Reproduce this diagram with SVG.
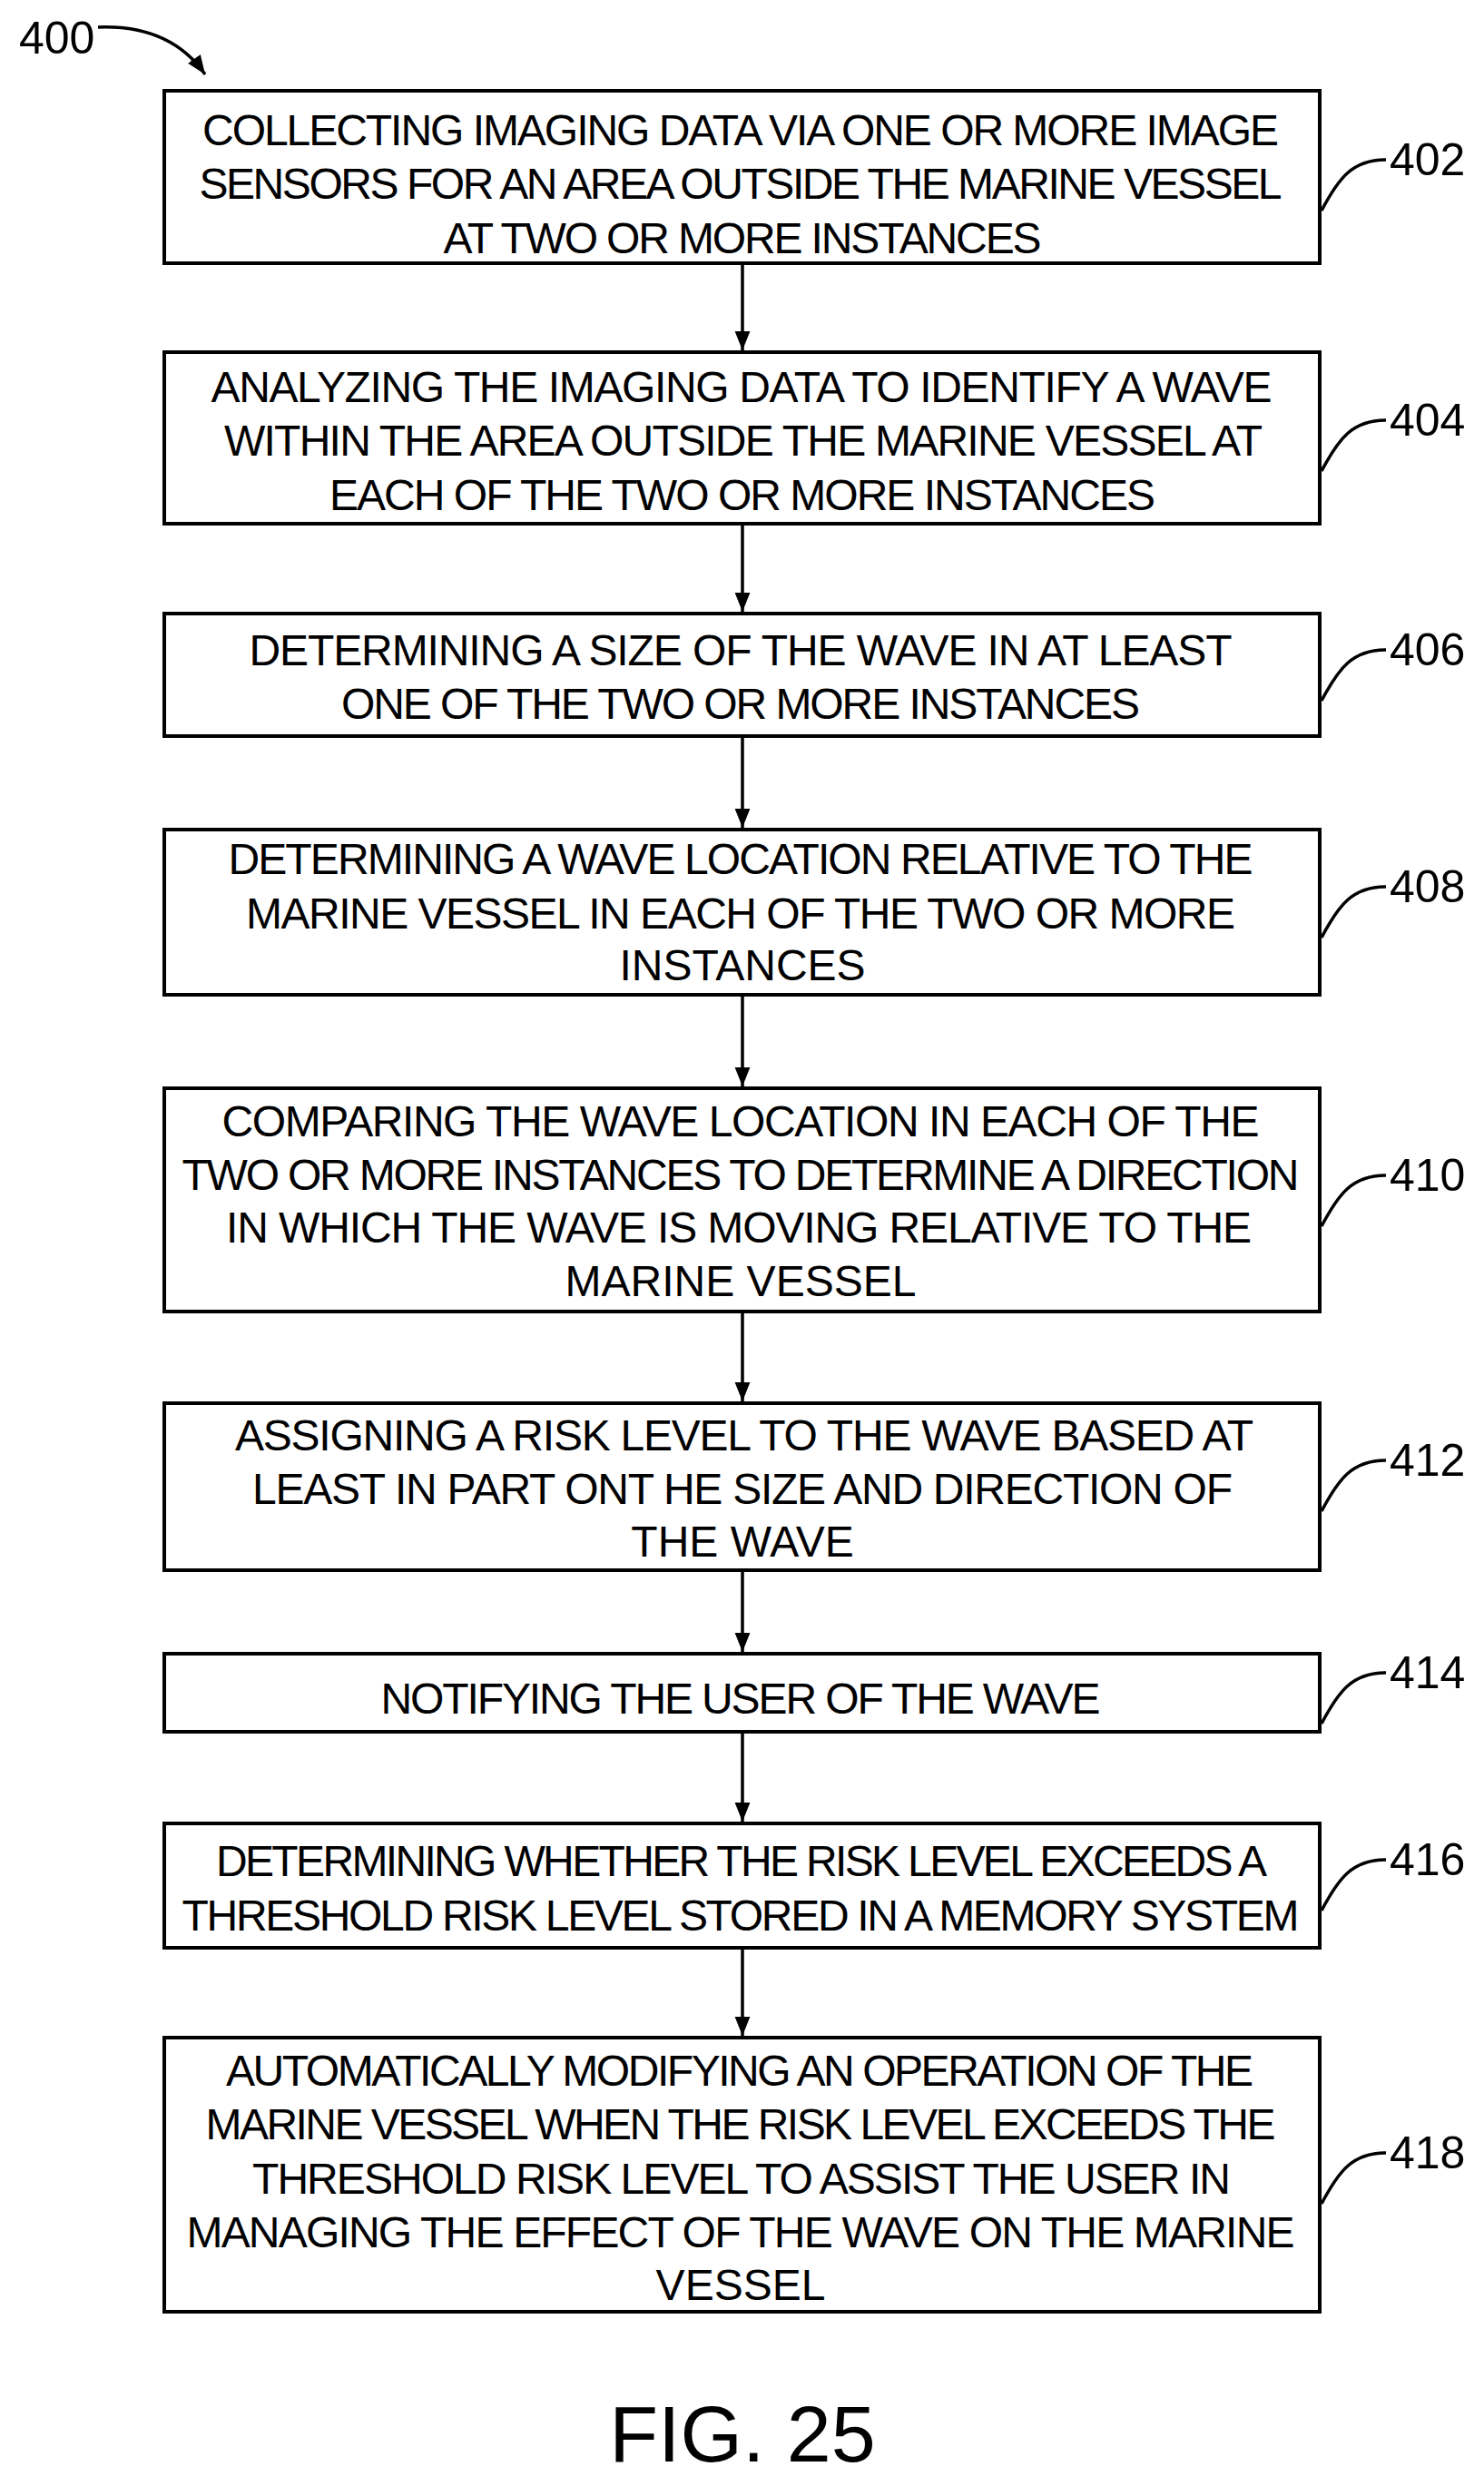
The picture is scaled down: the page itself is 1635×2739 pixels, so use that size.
<svg xmlns="http://www.w3.org/2000/svg" width="1635" height="2739" viewBox="0 0 1635 2739">
<style>
.b{fill:#fff;stroke:#000;stroke-width:4}
.t{font-family:"Liberation Sans",Arial,sans-serif;font-size:48px;text-anchor:middle;fill:#000}
.l{font-family:"Liberation Sans",Arial,sans-serif;font-size:50px;fill:#000}
.c{fill:none;stroke:#000;stroke-width:3.5}
</style>
<defs><marker id="a" viewBox="0 0 10 10" refX="10" refY="5" markerWidth="6" markerHeight="6" orient="auto"><path d="M0,1 L10,5 L0,9 Z" fill="#000"/></marker></defs>
<g id="connectors" class="c">
<path d="M818,290 V386" marker-end="url(#a)"/>
<path d="M818,577 V674" marker-end="url(#a)"/>
<path d="M818,811 V912" marker-end="url(#a)"/>
<path d="M818,1096 V1197" marker-end="url(#a)"/>
<path d="M818,1445 V1544" marker-end="url(#a)"/>
<path d="M818,1730 V1820" marker-end="url(#a)"/>
<path d="M818,1908 V2007" marker-end="url(#a)"/>
<path d="M818,2146 V2243" marker-end="url(#a)"/>
<path d="M108,30 C160,28 200,45 226,82" marker-end="url(#a)"/>
<path d="M1456,232 C1475,196 1490,176 1527,176"/>
<path d="M1456,519 C1475,483 1490,463 1527,463"/>
<path d="M1456,772 C1475,736 1490,716 1527,716"/>
<path d="M1456,1033 C1475,997 1490,977 1527,977"/>
<path d="M1456,1351 C1475,1315 1490,1295 1527,1295"/>
<path d="M1456,1665 C1475,1629 1490,1609 1527,1609"/>
<path d="M1456,1899 C1475,1863 1490,1843 1527,1843"/>
<path d="M1456,2105 C1475,2069 1490,2049 1527,2049"/>
<path d="M1456,2428 C1475,2392 1490,2372 1527,2372"/>
</g>
<text class="l" x="21" y="59">400</text>
<g id="n402"><rect class="b" x="181" y="100" width="1273" height="190"/>
<text class="t" x="816" y="160" textLength="1186">COLLECTING IMAGING DATA VIA ONE OR MORE IMAGE</text>
<text class="t" x="816" y="219" textLength="1193">SENSORS FOR AN AREA OUTSIDE THE MARINE VESSEL</text>
<text class="t" x="818" y="279" textLength="659">AT TWO OR MORE INSTANCES</text>
<text class="l" x="1531" y="193">402</text></g>
<g id="n404"><rect class="b" x="181" y="388" width="1273" height="189"/>
<text class="t" x="817" y="443" textLength="1169">ANALYZING THE IMAGING DATA TO IDENTIFY A WAVE</text>
<text class="t" x="819" y="502" textLength="1144">WITHIN THE AREA OUTSIDE THE MARINE VESSEL AT</text>
<text class="t" x="818" y="562" textLength="910">EACH OF THE TWO OR MORE INSTANCES</text>
<text class="l" x="1531" y="480">404</text></g>
<g id="n406"><rect class="b" x="181" y="676" width="1273" height="135"/>
<text class="t" x="816" y="733" textLength="1083">DETERMINING A SIZE OF THE WAVE IN AT LEAST</text>
<text class="t" x="816" y="792" textLength="880">ONE OF THE TWO OR MORE INSTANCES</text>
<text class="l" x="1531" y="733">406</text></g>
<g id="n408"><rect class="b" x="181" y="914" width="1273" height="182"/>
<text class="t" x="816" y="963" textLength="1129">DETERMINING A WAVE LOCATION RELATIVE TO THE</text>
<text class="t" x="816" y="1023" textLength="1090">MARINE VESSEL IN EACH OF THE TWO OR MORE</text>
<text class="t" x="818" y="1080">INSTANCES</text>
<text class="l" x="1531" y="994">408</text></g>
<g id="n410"><rect class="b" x="181" y="1199" width="1273" height="246"/>
<text class="t" x="816" y="1252" textLength="1143">COMPARING THE WAVE LOCATION IN EACH OF THE</text>
<text class="t" x="816" y="1311" textLength="1231">TWO OR MORE INSTANCES TO DETERMINE A DIRECTION</text>
<text class="t" x="814" y="1369" textLength="1130">IN WHICH THE WAVE IS MOVING RELATIVE TO THE</text>
<text class="t" x="816" y="1428">MARINE VESSEL</text>
<text class="l" x="1531" y="1312">410</text></g>
<g id="n412"><rect class="b" x="181" y="1546" width="1273" height="184"/>
<text class="t" x="820" y="1598" textLength="1122">ASSIGNING A RISK LEVEL TO THE WAVE BASED AT</text>
<text class="t" x="818" y="1657" textLength="1080">LEAST IN PART ONT HE SIZE AND DIRECTION OF</text>
<text class="t" x="818" y="1715">THE WAVE</text>
<text class="l" x="1531" y="1626">412</text></g>
<g id="n414"><rect class="b" x="181" y="1822" width="1273" height="86"/>
<text class="t" x="816" y="1888" textLength="793">NOTIFYING THE USER OF THE WAVE</text>
<text class="l" x="1531" y="1860">414</text></g>
<g id="n416"><rect class="b" x="181" y="2009" width="1273" height="137"/>
<text class="t" x="817" y="2067" textLength="1158">DETERMINING WHETHER THE RISK LEVEL EXCEEDS A</text>
<text class="t" x="816" y="2127" textLength="1231">THRESHOLD RISK LEVEL STORED IN A MEMORY SYSTEM</text>
<text class="l" x="1531" y="2066">416</text></g>
<g id="n418"><rect class="b" x="181" y="2245" width="1273" height="302"/>
<text class="t" x="815" y="2298" textLength="1132">AUTOMATICALLY MODIFYING AN OPERATION OF THE</text>
<text class="t" x="816" y="2357" textLength="1179">MARINE VESSEL WHEN THE RISK LEVEL EXCEEDS THE</text>
<text class="t" x="817" y="2417" textLength="1078">THRESHOLD RISK LEVEL TO ASSIST THE USER IN</text>
<text class="t" x="816" y="2476" textLength="1221">MANAGING THE EFFECT OF THE WAVE ON THE MARINE</text>
<text class="t" x="816" y="2534">VESSEL</text>
<text class="l" x="1531" y="2389">418</text></g>
<text class="t" x="818" y="2712" style="font-size:88px">FIG. 25</text>
</svg>
